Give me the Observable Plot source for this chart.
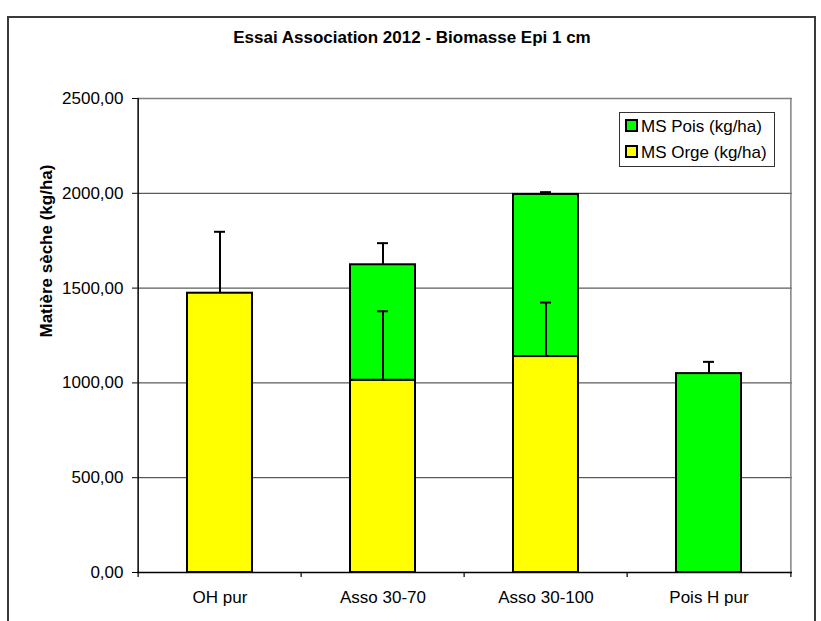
<!DOCTYPE html>
<html>
<head>
<meta charset="utf-8">
<script src="https://cdn.jsdelivr.net/npm/d3@7"></script>
<script src="https://cdn.jsdelivr.net/npm/@observablehq/plot@0.6"></script>
<style>
  html, body { margin: 0; padding: 0; background: #fff; overflow: hidden; }
  body { width: 821px; height: 621px; position: relative; font-family: "Liberation Sans", Arial, sans-serif; }
  #frame { position: absolute; left: 7px; top: 16px; width: 805px; height: 700px; border: 2px solid #3a3a3a; }
  #title { position: absolute; left: 8px; width: 808px; top: 29px; text-align: center; font-weight: bold; font-size: 17px; line-height: 17px; color: #000; }
  #chart { position: absolute; left: 0; top: 0; }
  #legend { position: absolute; left: 619px; top: 112px; width: 154px; height: 53px; border: 1px solid #333; background: #fff; }
  .item { position: absolute; left: 5px; height: 20px; font-size: 17px; line-height: 20px; white-space: nowrap; color: #000; }
  .sw { display: inline-block; width: 9px; height: 9px; border: 2px solid #000; vertical-align: middle; margin-right: 3px; position: relative; top: -2px; }
</style>
</head>
<body>
<div id="frame"></div>
<div id="chart"></div>
<div id="title"></div>
<div id="legend"></div>
<script>
// ---- data ----
const title = "Essai Association 2012 - Biomasse Epi 1 cm";
const yLabel = "Matière sèche (kg/ha)";
const categories = ["OH pur", "Asso 30-70", "Asso 30-100", "Pois H pur"];
const orge = [1473, 1014, 1139, 0];      // MS Orge (kg/ha)
const pois = [0, 609, 855, 1049];        // MS Pois (kg/ha)
const orgeErr = [324, 364, 285, 0];
const poisErr = [0, 114, 12, 62];
const yTicks = [0, 500, 1000, 1500, 2000, 2500];
const seriesNames = ["MS Pois (kg/ha)", "MS Orge (kg/ha)"];
const seriesColors = ["#00FF00", "#FFFF00"];

// ---- derived tables ----
const rows = [];
categories.forEach((c, i) => rows.push({cat: c, serie: "Orge", value: orge[i]}));
categories.forEach((c, i) => rows.push({cat: c, serie: "Pois", value: pois[i]}));
const errOrge = categories.map((c, i) => ({cat: c, base: orge[i], top: orge[i] + orgeErr[i], e: orgeErr[i]})).filter(d => d.e > 0);
const errPois = categories.map((c, i) => ({cat: c, base: orge[i] + pois[i], top: orge[i] + pois[i] + poisErr[i], e: poisErr[i]})).filter(d => d.e > 0);

const W = 821, H = 621, mL = 137, mR = 29, mT = 98, mB = 49;
const step = (W - mL - mR) / categories.length;
const fmt = d => d3.format(".2f")(d).replace(".", ",");

const chart = Plot.plot({
  width: W, height: H,
  marginLeft: mL, marginRight: mR, marginTop: mT, marginBottom: mB,
  style: {fontFamily: "'Liberation Sans', Arial, sans-serif", fontSize: "17px", color: "#000", background: "transparent", overflow: "visible"},
  x: {domain: categories, paddingInner: 0.6, paddingOuter: 0.3, label: null, tickSize: 0, tickPadding: 18},
  y: {domain: [0, 2500], ticks: yTicks, tickSize: 5, tickPadding: 9, tickFormat: fmt, label: null},
  color: {domain: ["Orge", "Pois"], range: ["#FFFF00", "#00FF00"]},
  marks: [
    Plot.ruleY(yTicks.filter(t => t > 0 && t < 2500), {stroke: "#333", strokeWidth: 1}),
    Plot.ruleY([2500], {stroke: "#808080", strokeWidth: 1.5}),
    Plot.ruleX([categories[categories.length - 1]], {dx: step / 2, stroke: "#808080", strokeWidth: 1.5}),
    Plot.barY(rows, Plot.stackY({x: "cat", y: "value", fill: "serie", stroke: "#000", strokeWidth: 2, order: null})),
    Plot.ruleX(errOrge, {x: "cat", y1: "base", y2: "top", stroke: "#000", strokeWidth: 2}),
    Plot.tickY(errOrge, {x: "cat", y: "top", stroke: "#000", strokeWidth: 2, insetLeft: 27, insetRight: 27}),
    Plot.ruleX(errPois, {x: "cat", y1: "base", y2: "top", stroke: "#000", strokeWidth: 2}),
    Plot.tickY(errPois, {x: "cat", y: "top", stroke: "#000", strokeWidth: 2, insetLeft: 27, insetRight: 27}),
    Plot.ruleX([categories[0]], {dx: -step / 2, stroke: "#000", strokeWidth: 1.5}),
    Plot.ruleY([0], {stroke: "#000", strokeWidth: 1.5}),
    Plot.ruleX(categories, {x: d => d, dx: -step / 2, y1: 0, y2: 0, insetBottom: -5, stroke: "#000", strokeWidth: 1.2}),
    Plot.ruleX([categories[categories.length - 1]], {dx: step / 2, y1: 0, y2: 0, insetBottom: -5, stroke: "#000", strokeWidth: 1.2}),
    Plot.text([yLabel], {frameAnchor: "left", dx: -91, dy: 2, rotate: -90, fontWeight: "bold", fontSize: 17, fill: "#000"})
  ]
});
document.getElementById("chart").appendChild(chart);
document.getElementById("title").textContent = title;

const legend = document.getElementById("legend");
seriesNames.forEach((name, i) => {
  const it = document.createElement("div");
  it.className = "item";
  it.style.top = (4 + i * 26) + "px";
  const sw = document.createElement("span");
  sw.className = "sw";
  sw.style.background = seriesColors[i];
  it.appendChild(sw);
  it.appendChild(document.createTextNode(name));
  legend.appendChild(it);
});
</script>
</body>
</html>
